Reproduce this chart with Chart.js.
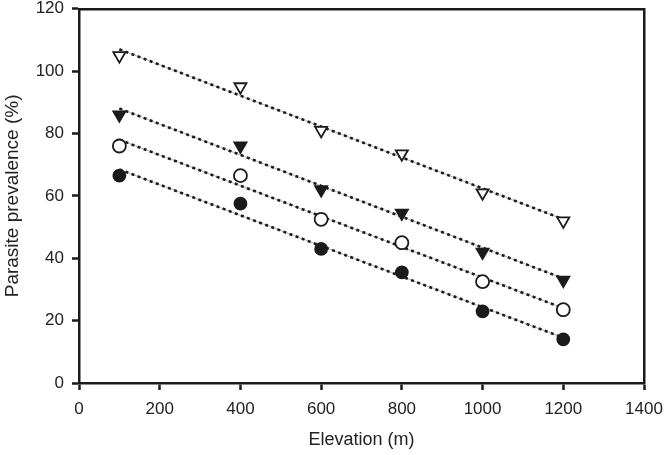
<!DOCTYPE html>
<html lang="en">
<head>
    <meta charset="UTF-8">
    <title>Parasite prevalence vs elevation</title>
    <script src="https://cdn.jsdelivr.net/npm/chart.js"></script>
    <style>
        body {
            margin: 0;
            background: #ffffff;
        }
        .wrap {
            width: 666px;
            height: 455px;
        }
    </style>
</head>
<body>
    <div class="wrap"><canvas id="chart"></canvas></div>

    <script>
        // sampled elevations (m)
        const elevations = [100, 400, 600, 800, 1000, 1200];

        // prevalence (%) per group
        const openTriangles = [105, 95, 81, 73.5, 61, 52];
        const filledTriangles = [86, 76, 62, 54.5, 42, 33];
        const openCircles = [76, 66.5, 52.5, 45, 32.5, 23.5];
        const filledCircles = [66.5, 57.5, 43, 35.5, 23, 14];

        // fitted trend lines: start/end points
        const fitX = [100, 1200];
        const fitOpenTriangles = [107, 52.5];
        const fitFilledTriangles = [88, 33.5];
        const fitOpenCircles = [78, 24];
        const fitFilledCircles = [68.5, 14.5];

        const xTicks = [0, 200, 400, 600, 800, 1000, 1200, 1400];
        const yTicks = [0, 20, 40, 60, 80, 100, 120];

        const ink = "#1b1b1b";

        function pts(xs, ys) {
            return xs.map((x, i) => ({ x: x, y: ys[i] }));
        }

        // thin grey line under the black dots, like the original
        function fitBase(ys) {
            return {
                type: "line",
                data: pts(fitX, ys),
                borderColor: "#b5b5b5",
                borderWidth: 1,
                pointRadius: 0,
                fill: false,
                order: 3
            };
        }

        function fitLine(ys) {
            return {
                type: "line",
                data: pts(fitX, ys),
                borderColor: ink,
                borderWidth: 2.6,
                borderDash: [3, 3.5],
                pointRadius: 0,
                fill: false,
                order: 2
            };
        }

        function marks(ys, style, filled, radius, rotation) {
            return {
                type: "scatter",
                data: pts(elevations, ys),
                pointStyle: style,
                pointRotation: rotation,
                pointRadius: radius,
                pointBackgroundColor: filled ? ink : "#ffffff",
                pointBorderColor: ink,
                pointBorderWidth: 1.8,
                order: 1
            };
        }

        Chart.defaults.font.family = "'Liberation Sans', Arial, sans-serif";
        Chart.defaults.color = "#222222";

        new Chart(document.getElementById("chart"), {
            data: {
                datasets: [
                    fitBase(fitOpenTriangles),
                    fitBase(fitFilledTriangles),
                    fitBase(fitOpenCircles),
                    fitBase(fitFilledCircles),
                    fitLine(fitOpenTriangles),
                    fitLine(fitFilledTriangles),
                    fitLine(fitOpenCircles),
                    fitLine(fitFilledCircles),
                    marks(openTriangles, "triangle", false, 7, 180),
                    marks(filledTriangles, "triangle", true, 7, 180),
                    marks(openCircles, "circle", false, 6.5, 0),
                    marks(filledCircles, "circle", true, 6, 0)
                ]
            },
            options: {
                responsive: true,
                maintainAspectRatio: false,
                animation: false,
                layout: { padding: { top: 0, right: 22, bottom: 0, left: 0 } },
                plugins: {
                    legend: { display: false },
                    tooltip: { enabled: false }
                },
                events: [],
                scales: {
                    x: {
                        type: "linear",
                        min: 0,
                        max: 1400,
                        afterBuildTicks: axis => { axis.ticks = xTicks.map(v => ({ value: v })); },
                        afterFit: axis => {
                            axis.height = 72;
                            axis.paddingLeft = 0;
                            axis.paddingRight = 0;
                        },
                        ticks: { font: { size: 17, lineHeight: 0.95 }, color: "#222", padding: 11, callback: v => String(v) },
                        grid: { drawOnChartArea: false, drawTicks: true, tickLength: 7, tickColor: ink, tickWidth: 2.5 },
                        border: { color: ink, width: 2.5 },
                        title: { display: true, text: "Elevation (m)", font: { size: 18 }, color: "#222", padding: { top: 4, bottom: 4 } }
                    },
                    y: {
                        type: "linear",
                        min: 0,
                        max: 120,
                        afterBuildTicks: axis => { axis.ticks = yTicks.map(v => ({ value: v })); },
                        afterFit: axis => { axis.width = 79; },
                        ticks: { font: { size: 17, lineHeight: 0.01 }, color: "#222", padding: 8, callback: v => String(v) },
                        grid: { drawOnChartArea: false, drawTicks: true, tickLength: 7, tickColor: ink, tickWidth: 2.5 },
                        border: { color: ink, width: 2.5 },
                        title: { display: true, text: "Parasite prevalence (%)", font: { size: 19 }, color: "#222", padding: { top: 1, bottom: 1 } }
                    },
                    xTop: {
                        type: "linear",
                        position: "top",
                        min: 0,
                        max: 1400,
                        afterFit: axis => {
                            axis.height = 0;
                            axis.paddingLeft = 0;
                            axis.paddingRight = 0;
                        },
                        ticks: { display: false },
                        grid: { display: false },
                        border: { color: ink, width: 2.5 }
                    },
                    yRight: {
                        type: "linear",
                        position: "right",
                        min: 0,
                        max: 120,
                        afterFit: axis => { axis.width = 0; },
                        ticks: { display: false },
                        grid: { display: false },
                        border: { color: ink, width: 2.5 }
                    }
                }
            }
        });
    </script>
</body>
</html>
